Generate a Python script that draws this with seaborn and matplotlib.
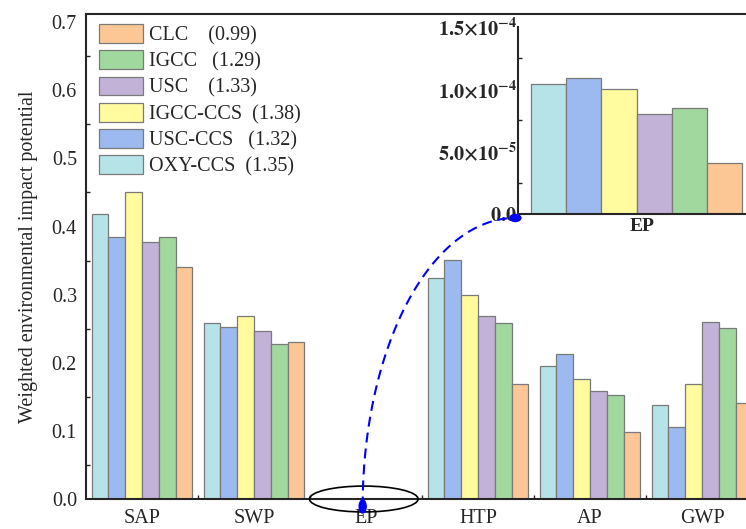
import numpy as np
import pandas as pd
import matplotlib.pyplot as plt
import seaborn as sns
from matplotlib.patches import Ellipse, Patch
from matplotlib.lines import Line2D
from matplotlib.ticker import AutoMinorLocator, FixedLocator

# Données
categories = ["SAP", "SWP", "EP", "HTP", "AP", "GWP"]
systems = ["OXY-CCS", "USC-CCS", "IGCC-CCS", "USC", "IGCC", "CLC"]
ratios = ["1.35", "1.32", "1.38", "1.33", "1.29", "0.99"]
label_gaps = [2, 3, 2, 4, 3, 4]
colors = ["#b5e3e8", "#9dbaf0", "#fffb9e", "#c2b2d7", "#a0d89d", "#fcc794"]

oxy_ccs = [0.418, 0.259, 1.04e-4, 0.325, 0.195, 0.138]
usc_ccs = [0.385, 0.252, 1.09e-4, 0.351, 0.213, 0.106]
igcc_ccs = [0.451, 0.268, 1.00e-4, 0.299, 0.176, 0.169]
usc = [0.377, 0.246, 0.80e-4, 0.269, 0.158, 0.260]
igcc = [0.384, 0.227, 0.85e-4, 0.258, 0.152, 0.251]
clc = [0.341, 0.231, 0.41e-4, 0.169, 0.099, 0.141]

inset_ticks = [0, 5e-5, 1e-4, 1.5e-4]
inset_ticklabels = [r"$\mathbf{0.0}$", r"$\mathbf{5.0{\times}10^{-5}}$",
                    r"$\mathbf{1.0{\times}10^{-4}}$", r"$\mathbf{1.5{\times}10^{-4}}$"]

df = pd.DataFrame({
    "category": categories * len(systems),
    "system": np.repeat(systems, len(categories)),
    "value": oxy_ccs + usc_ccs + igcc_ccs + usc + igcc + clc,
})

sns.set_style("ticks")
plt.rcParams["font.family"] = ["Liberation Serif", "DejaVu Serif"]
plt.rcParams["mathtext.fontset"] = "stix"
edge = "#7a7a7a"
fs = 14.5

fig = plt.figure(figsize=(7.46, 5.29), dpi=100)
ax = fig.add_axes([0.1153, 0.0567, 0.9008, 0.9168])

sns.barplot(data=df, x="category", y="value", hue="system", order=categories,
            hue_order=systems, palette=colors, width=0.9, saturation=1,
            edgecolor=edge, linewidth=0.9, legend=False, ax=ax)

ax.set_xlim(-0.5, 5.5)
ax.set_ylim(0, 0.712)
ax.set_xlabel("")
ax.set_ylabel("Weighted environmental impact potential", fontsize=fs)
ax.yaxis.set_label_coords(-0.071, 0.5)
ax.set_yticks(np.arange(0, 0.71, 0.1))
ax.yaxis.set_minor_locator(AutoMinorLocator(2))
ax.xaxis.set_minor_locator(FixedLocator(np.arange(0.5, 5.5, 1)))
ax.tick_params(which="major", length=0, labelsize=fs)
ax.tick_params(axis="y", which="major", pad=6.5)
ax.tick_params(axis="x", which="major", pad=7)
ax.tick_params(which="minor", direction="in", length=3, width=1)
for s in ["left", "bottom", "top"]:
    ax.spines[s].set_linewidth(1.5)
ax.spines["right"].set_visible(False)

# Légende (ordre inversé)
handles = [Patch(facecolor=c, edgecolor=edge, linewidth=0.9) for c in colors][::-1]
labels = [f"{s}{' ' * g}({r})" for s, g, r in zip(systems, label_gaps, ratios)][::-1]
ax.legend(handles, labels, loc="upper left", bbox_to_anchor=(0.019, 0.979),
          frameon=False, fontsize=fs, handlelength=2.2, handleheight=1.05,
          handletextpad=0.3, labelspacing=0.25, borderpad=0, borderaxespad=0)

# Encadré EP
axin = fig.add_axes([0.6948, 0.5955, 0.331, 0.354])
ep = df[df["category"] == "EP"]
sns.barplot(data=ep, x="system", y="value", hue="system", order=systems,
            hue_order=systems, palette=colors, width=1.0, saturation=1,
            edgecolor=edge, linewidth=0.9, legend=False, ax=axin)
axin.set_xlim(-0.86, 6.15)
axin.set_ylim(0, 1.5e-4)
axin.set_xlabel("")
axin.set_ylabel("")
axin.set_xticks([2.645])
axin.set_xticklabels(["EP"], fontweight="bold", fontsize=14)
axin.xaxis.set_minor_locator(FixedLocator([0.5, 1.83, 3.17, 4.5]))
axin.set_yticks(inset_ticks)
axin.set_yticklabels(inset_ticklabels, fontsize=14.5)
axin.yaxis.set_minor_locator(AutoMinorLocator(2))
axin.tick_params(which="major", length=0)
axin.tick_params(axis="y", which="major", pad=1)
axin.tick_params(axis="x", which="major", pad=3)
axin.tick_params(which="minor", direction="in", length=3, width=1)
axin.spines["top"].set_visible(False)
axin.spines["right"].set_visible(False)
axin.spines["left"].set_linewidth(1.5)
axin.spines["bottom"].set_linewidth(1.5)

# Ellipse autour de EP et arc pointillé vers l'encadré
ax.add_patch(Ellipse((categories.index("EP") - 0.02, 0), width=0.97, height=0.038,
                     fill=False, edgecolor="black", lw=1.2, clip_on=False, zorder=5))

to_fig = fig.transFigure.inverted()
sx, sy = to_fig.transform(ax.transData.transform((categories.index("EP") - 0.03, -0.011)))
ox, oy = axin.transData.transform((axin.get_xlim()[0], 0))
ex, ey = to_fig.transform((ox - 3, oy - 4))
t = np.linspace(0, np.pi / 2, 100)
xs = ex - (ex - sx) * np.cos(t)
ys = sy + (ey - sy) * np.sin(t)
fig.add_artist(Line2D(xs, ys, transform=fig.transFigure, color="#0000ff",
                      lw=1.5, linestyle=(0, (4.8, 2.9)), zorder=6))
fig.add_artist(Ellipse((sx, sy), 7 / 746, 13 / 529, transform=fig.transFigure,
                       color="#0000ff", zorder=7))
fig.add_artist(Ellipse((ex, ey), 11 / 746, 7 / 529, transform=fig.transFigure,
                       color="#0000ff", zorder=7))

fig.savefig("out.png", dpi=100)
plt.close(fig)
